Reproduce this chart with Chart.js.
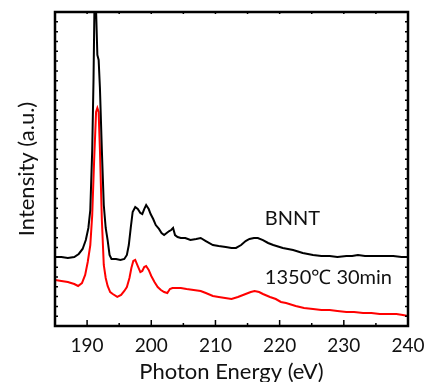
<!DOCTYPE html>
<html>
<head>
<meta charset="utf-8">
<script src="https://cdn.jsdelivr.net/npm/chart.js@4/dist/chart.umd.min.js"></script>
<style>
  html, body { margin: 0; padding: 0; background: #fff; }
  #wrap { width: 424px; height: 382px; position: relative; }
</style>
</head>
<body>
<div id="wrap"><canvas id="c" width="424" height="382"></canvas></div>
<script>
// Photon energy (eV) and intensities (a.u.)
const bnntEnergy = [185,186,187,188,188.7,189.3,189.8,190.2,190.5,190.8,191.0,191.2,191.4,191.6,191.8,192.0,192.3,192.6,192.9,193.2,193.5,193.8,194.5,195.2,195.8,196.2,196.5,196.8,197.1,197.5,197.9,198.3,198.6,198.9,199.2,199.6,199.9,200.3,200.7,201.2,201.6,202.0,202.4,202.8,203.1,203.4,203.7,204.1,204.6,205.3,206.1,207.0,207.7,208.5,209.6,210.5,211.6,212.5,213.2,214.0,214.7,215.3,216.0,216.6,217.4,218.2,219.0,220.5,222.1,223.6,225.2,226.5,227.8,229.0,230.4,231.3,232.2,233.3,234.6,236.0,237.7,239.0,240];
const bnntIntensity = [7.03,7.03,6.93,7.03,7.34,7.85,8.76,9.99,11.82,17.94,25.07,35.26,32.20,27.62,27.11,24.25,17.94,12.33,9.99,8.76,7.24,6.83,6.83,6.73,6.83,7.24,8.25,9.99,11.62,12.13,11.92,11.52,11.41,11.92,12.33,11.92,11.41,10.90,10.29,9.89,9.48,9.27,9.48,9.68,9.78,9.99,9.27,9.07,8.97,8.97,8.76,8.87,8.97,8.66,8.25,8.15,8.05,7.95,7.95,8.25,8.66,8.87,8.97,8.97,8.76,8.46,8.25,7.95,7.75,7.44,7.24,7.13,7.13,7.03,7.13,7.13,7.24,7.13,7.13,7.13,7.13,7.03,7.03];

const annealEnergy = [185,186,187,188,188.6,189.2,189.7,190.1,190.5,190.8,191.1,191.4,191.6,191.8,192.0,192.3,192.6,192.9,193.2,193.6,194.0,194.7,195.3,195.8,196.2,196.6,196.9,197.2,197.5,197.9,198.3,198.6,198.9,199.2,199.6,200.0,200.5,201.0,201.5,202.0,202.5,202.9,203.3,204.0,204.6,205.5,206.6,207.7,208.5,209.6,210.5,211.5,212.5,213.5,214.7,215.5,216.1,216.8,217.4,218.5,219.4,220.2,221.0,222.5,223.8,225.2,226.5,227.8,229.0,230.4,231.6,233.0,234.3,235.6,237.0,238.2,239.2,240];
const annealIntensity = [4.69,4.59,4.48,4.28,4.08,4.38,5.20,6.52,8.25,11.31,16.92,21.81,22.22,21.81,17.94,10.80,6.22,4.89,4.08,3.46,3.26,2.96,3.16,3.57,3.97,4.89,5.91,6.62,6.73,6.11,5.50,5.61,6.01,6.11,5.71,5.10,4.48,3.97,3.67,3.46,3.36,3.77,3.87,3.87,3.87,3.77,3.67,3.57,3.36,3.06,2.96,2.85,2.75,2.96,3.26,3.46,3.57,3.46,3.26,2.96,2.75,2.45,2.34,2.04,1.83,1.73,1.63,1.63,1.53,1.43,1.43,1.32,1.32,1.22,1.22,1.22,1.12,1.02];

const seriesLabels = ['BNNT', '1350\u2103 30min'];
const labelAnchors = [[217.7, 10.9], [217.7, 4.89]];
const xTickLabels = [190, 200, 210, 220, 230, 240];
const xTitle = 'Photon Energy (eV)';
const yTitle = 'Intensity (a.u.)';

const FONT = 'Lato, "Open Sans", sans-serif';

const frameAndTicks = {
  id: 'frameAndTicks',
  afterDatasetsDraw(chart) {
    const {ctx, chartArea: a, scales: {x, y}} = chart;
    ctx.save();
    ctx.strokeStyle = '#000';
    ctx.lineWidth = 1.5;
    x.ticks.forEach(t => {
      const px = x.getPixelForValue(t.value);
      const major = xTickLabels.includes(t.value);
      const len = major ? 6 : 3;
      ctx.beginPath();
      ctx.moveTo(px, a.bottom); ctx.lineTo(px, a.bottom - len);
      ctx.moveTo(px, a.top); ctx.lineTo(px, a.top + 2);
      ctx.stroke();
    });
    y.ticks.forEach(t => {
      const py = y.getPixelForValue(t.value);
      ctx.beginPath();
      ctx.moveTo(a.left, py); ctx.lineTo(a.left + 3, py);
      ctx.moveTo(a.right, py); ctx.lineTo(a.right - 3, py);
      ctx.stroke();
    });
    ctx.lineWidth = 2.5;
    ctx.strokeRect(a.left, a.top, a.right - a.left, a.bottom - a.top);
    ctx.fillStyle = '#111';
    ctx.font = '20px ' + FONT;
    ctx.textBaseline = 'middle';
    ctx.textAlign = 'left';
    seriesLabels.forEach((s, i) => {
      ctx.fillText(s, x.getPixelForValue(labelAnchors[i][0]), y.getPixelForValue(labelAnchors[i][1]));
    });
    ctx.restore();
  }
};

new Chart(document.getElementById('c'), {
  type: 'line',
  data: {
    datasets: [
      {
        label: seriesLabels[0],
        data: bnntEnergy.map((e, i) => ({x: e, y: bnntIntensity[i]})),
        borderColor: '#000', borderWidth: 2, pointRadius: 0, tension: 0, fill: false
      },
      {
        label: seriesLabels[1],
        data: annealEnergy.map((e, i) => ({x: e, y: annealIntensity[i]})),
        borderColor: '#ff0000', borderWidth: 2, pointRadius: 0, tension: 0, fill: false
      }
    ]
  },
  options: {
    responsive: false,
    animation: false,
    layout: { padding: { left: 0, top: 12, right: 16, bottom: 0 } },
    plugins: { legend: { display: false }, tooltip: { enabled: false } },
    scales: {
      x: {
        type: 'linear', min: 185, max: 240,
        grid: { display: false, drawTicks: false },
        border: { display: false },
        ticks: {
          stepSize: 5, autoSkip: false, maxRotation: 0, padding: 8,
          color: '#111', font: { family: FONT, size: 19 },
          callback: v => xTickLabels.includes(v) ? String(v) : ''
        },
        title: { display: true, text: xTitle, color: '#111',
                 font: { family: FONT, size: 22, lineHeight: 1 }, padding: { top: 0, bottom: -1 } },
        afterFit(s) { s.height = 56; s.paddingLeft = 0; s.paddingRight = 0; }
      },
      y: {
        min: 0, max: 32,
        grid: { display: false, drawTicks: false },
        border: { display: false },
        ticks: { display: false, stepSize: 1 },
        title: { display: true, text: yTitle, color: '#111',
                 font: { family: FONT, size: 22, lineHeight: 1 }, padding: { top: 16, bottom: 0 } },
        afterFit(s) { s.width = 55; }
      }
    }
  },
  plugins: [frameAndTicks]
});
</script>
</body>
</html>
